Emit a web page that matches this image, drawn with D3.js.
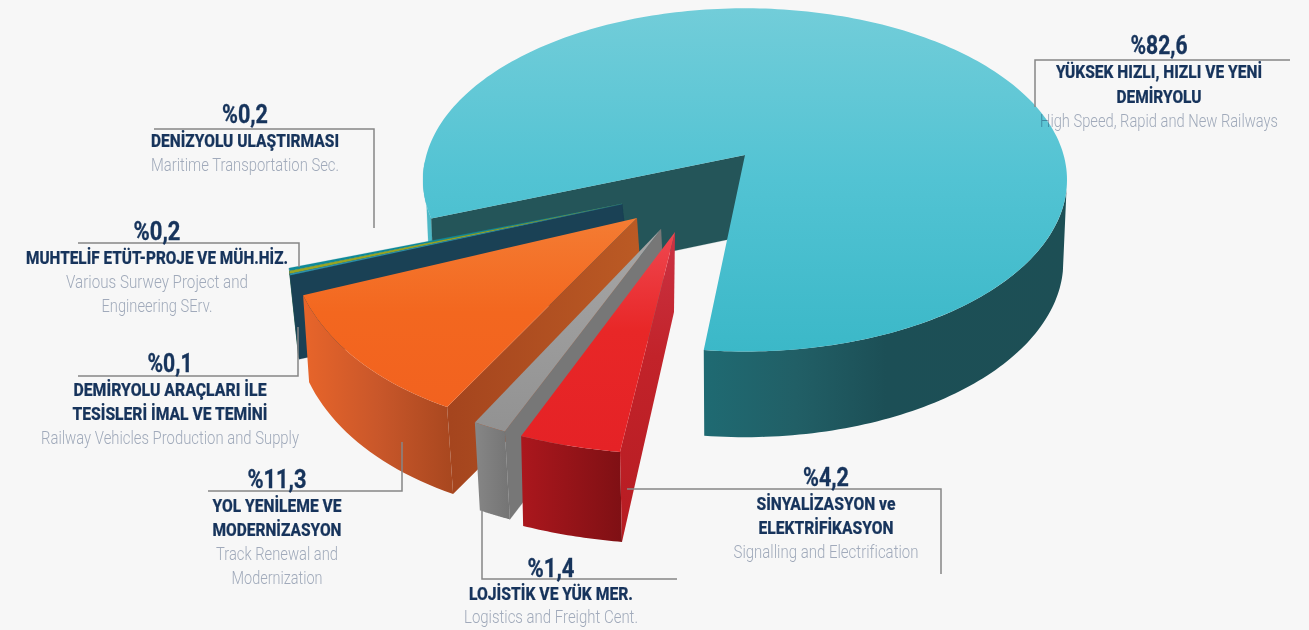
<!DOCTYPE html>
<html lang="tr">
<head>
<meta charset="utf-8">
<script src="https://cdn.jsdelivr.net/npm/d3@7/dist/d3.min.js"></script>
<style>
html,body{margin:0;padding:0;background:#f7f7f7;overflow:hidden}
svg{display:block}
text{font-family:Roboto,"Liberation Sans",sans-serif;text-anchor:middle}
.val{font-weight:700;font-size:25px;fill:#17345c;stroke:#17345c;stroke-width:.35}
.tit{font-weight:800;font-size:18.5px;fill:#17345c;stroke:#17345c;stroke-width:.2}
.sub{font-weight:300;font-size:17.5px;fill:#a6b0c1;mix-blend-mode:multiply}
</style>
</head>
<body>
<svg id="c" width="1309" height="630"></svg>
<script>
// ---------- data ----------
const categories = ["highSpeed","signalling","logistics","track","vehicles","survey","maritime"];
const shares     = [82.6, 4.2, 1.4, 11.3, 0.1, 0.2, 0.2];
const valueTexts = ["%82,6","%4,2","%1,4","%11,3","%0,1","%0,2","%0,2"];
const titleLines = [
  ["YÜKSEK HIZLI, HIZLI VE YENİ","DEMİRYOLU"],
  ["SİNYALİZASYON ve","ELEKTRİFİKASYON"],
  ["LOJİSTİK VE YÜK MER."],
  ["YOL YENİLEME VE","MODERNİZASYON"],
  ["DEMİRYOLU ARAÇLARI İLE","TESİSLERİ İMAL VE TEMİNİ"],
  ["MUHTELİF ETÜT-PROJE VE MÜH.HİZ."],
  ["DENİZYOLU ULAŞTIRMASI"]
];
const subLines = [
  ["High Speed, Rapid and New Railways"],
  ["Signalling and Electrification"],
  ["Logistics and Freight Cent."],
  ["Track Renewal and","Modernization"],
  ["Railway Vehicles Production and Supply"],
  ["Various Surwey Project and","Engineering SErv."],
  ["Maritime Transportation Sec."]
];

// ---------- layout (separate from data) ----------
const deg = Math.PI/180;
const pieStart = (159.5+90)*deg;
// main disc: perspective projection
const disc = {cx:745,cy:155,rx:318.6,ry:168,p:0.145,cy2:236,rx2:315,ry2:172,twist:-0.5*deg};
// exploded wedges: camera matrix of each wedge (origin, 2x2, extrusion)
const cameras = {
  signalling:{o:[675,232],m:[390.1,-8.47,5.55,222.2],e:[2,90],apexDrop:[-1,80]},
  logistics :{o:[661,229],m:[381.7,-14.3,10.8,222.6],e:[5,88]},
  track     :{o:[637,218],m:[345.8,-36.8,4.6,214.6],e:[6,87]},
  vehicles  :{o:[622,204],m:[321.4,-90.9,20.2,237],e:[9,84]},
  survey    :{o:[622,204],m:[321.4,-90.9,20.2,237],e:[9,84]},
  maritime  :{o:[622,204],m:[321.4,-90.9,20.2,237],e:[9,84]}
};
const faces = {
  signalling:{top:"url(#gRedTop)",side:"url(#gRedSide)",wall:"url(#gRedWall)"},
  logistics :{top:"url(#gGrayTop)",side:"url(#gGraySide)",wall:"#777777"},
  track     :{top:"url(#gOrTop)",side:"url(#gOrSide)",wall:"url(#gOrWall)"},
  vehicles  :{top:"#2d93ad",side:"#1f5f6a",wall:"#1a4155"},
  survey    :{top:"#9aa622",side:"#4f7a2a",wall:"#1a4155"},
  maritime  :{top:"#0f8a99",side:"#15606c",wall:"#1a4155"}
};
const labelSpec = [
  {cx:1159,vy:54, vw:57, ty:[78,103],   tw:[206,85],  sy:[127],    sw:[238]},
  {cx:826, vy:486,vw:46, ty:[510,534],  tw:[139,135], sy:[558],    sw:[185]},
  {cx:551, vy:577,vw:47, ty:[600],      tw:[164],     sy:[623],    sw:[174]},
  {cx:277, vy:488,vw:59, ty:[512,536],  tw:[129,129], sy:[560,584],sw:[122,91]},
  {cx:170, vy:372,vw:45, ty:[396,420],  tw:[193,195], sy:[444],    sw:[258]},
  {cx:157, vy:240,vw:47, ty:[264],      tw:[262],     sy:[288,312],sw:[182,111]},
  {cx:245, vy:123,vw:46, ty:[147],      tw:[188],     sy:[171],    sw:[188]}
];
const leaders = [
  [[1035,107],[1035,60],[1290,60]],
  [[627,489],[941,489],[941,574]],
  [[482,511],[482,579],[677,579]],
  [[208,491],[402,491],[402,442]],
  [[78,376],[298,376],[298,327]],
  [[78,243],[299,243],[299,267]],
  [[154,129],[374,129],[374,228]]
];

// ---------- setup ----------
const svg = d3.select("#c");
const defs = svg.append("defs");
function grad(id,x1,y1,x2,y2,stops){
  const g = defs.append("linearGradient").attr("id",id).attr("gradientUnits","userSpaceOnUse")
    .attr("x1",x1).attr("y1",y1).attr("x2",x2).attr("y2",y2);
  stops.forEach(s=>g.append("stop").attr("offset",s[0]).attr("stop-color",s[1]));
}
grad("gMainTop",0,8,0,352,[[0,"#72cdd9"],[0.5,"#52c3d3"],[1,"#3bb8c8"]]);
grad("gMainSide",705,0,1067,0,[[0,"#1f6a72"],[0.25,"#215f66"],[0.5,"#1c4f56"],[1,"#1d4f55"]]);
grad("gOrTop",0,218,0,407,[[0,"#f47c33"],[0.5,"#f3671f"],[1,"#f2621f"]]);
grad("gOrSide",303,0,453,0,[[0,"#e8652a"],[0.5,"#c9572a"],[1,"#a8471f"]]);
grad("gOrWall",637,0,450,0,[[0,"#bb5a24"],[1,"#a5451e"]]);
grad("gGrayTop",0,229,0,431,[[0,"#a6a6a6"],[1,"#929292"]]);
grad("gGraySide",475,0,510,0,[[0,"#868686"],[1,"#747474"]]);
grad("gRedTop",0,232,0,452,[[0,"#ef4750"],[0.45,"#e82727"],[1,"#e52226"]]);
grad("gRedSide",521,0,622,0,[[0,"#ab171d"],[1,"#7f1014"]]);
grad("gRedWall",0,232,0,542,[[0,"#cb3344"],[0.4,"#c2232a"],[1,"#b71c22"]]);

const pie = d3.pie().sort(null).startAngle(pieStart).endAngle(pieStart+2*Math.PI);
const arcs = pie(shares).map((a,i)=>({key:categories[i],a0:a.startAngle-Math.PI/2,a1:a.endAngle-Math.PI/2}));
const line = d3.line();
const poly = pts => line(pts)+"Z";
const sweep = (a,b,n=48)=>d3.range(n+1).map(i=>a+(b-a)*i/n);

function draw(d,fill){ svg.append("path").attr("d",d).attr("fill",fill).attr("stroke",fill.startsWith("url")?"none":fill).attr("stroke-width",0.2); }

// ---------- main slice ----------
const xTop=d3.scaleLinear().domain([-1,1]).range([disc.cx-disc.rx,disc.cx+disc.rx]);
const yTop=d3.scaleLinear().domain([-1,1]).range([disc.cy-disc.ry,disc.cy+disc.ry]);
const xBot=d3.scaleLinear().domain([-1,1]).range([disc.cx-disc.rx2,disc.cx+disc.rx2]);
const yBot=d3.scaleLinear().domain([-1,1]).range([disc.cy2-disc.ry2,disc.cy2+disc.ry2]);
function rim(t,xs,ys){
  const th=t+disc.twist, w=1-disc.p*Math.sin(th);
  return [xs(Math.cos(th)/w),ys(Math.sin(th)/w)];
}
const main=arcs[0];
const topRim=t=>rim(t,xTop,yTop), botRim=t=>rim(t,xBot,yBot);
// right / front outer side
const sideSpan=sweep(372*deg,main.a1,80);
draw(poly(sideSpan.map(topRim).concat(sideSpan.slice().reverse().map(botRim))),"url(#gMainSide)");
// small visible strip at the far left
const leftSpan=sweep(main.a0,178*deg,16);
draw(poly(leftSpan.map(topRim).concat(leftSpan.slice().reverse().map(botRim))),"#4db8c6");
// inner wall
draw(poly([[disc.cx,disc.cy],topRim(main.a0),botRim(main.a0),[disc.cx,disc.cy2]]),"#245559");
// top
draw(poly([[disc.cx,disc.cy]].concat(sweep(main.a0,main.a1,240).map(topRim))),"url(#gMainTop)");

// ---------- exploded wedges ----------
function wedge(arc){
  const c=cameras[arc.key], f=faces[arc.key];
  const P=t=>[c.o[0]+c.m[0]*Math.cos(t)+c.m[1]*Math.sin(t), c.o[1]+c.m[2]*Math.cos(t)+c.m[3]*Math.sin(t)];
  const Q=t=>{const p=P(t);return [p[0]+c.e[0],p[1]+c.e[1]];};
  const drop=c.apexDrop||c.e;
  const span=sweep(arc.a0,arc.a1,24);
  draw(poly(span.map(P).concat(span.slice().reverse().map(Q))),f.side);
  draw(poly([c.o,P(arc.a0),Q(arc.a0),[c.o[0]+drop[0],c.o[1]+drop[1]]]),f.wall);
  draw(poly([c.o].concat(span.map(P))),f.top);
}
// painter's order: far to near
arcs.slice(1).sort((a,b)=>b.a0-a.a0).forEach(wedge);

// ---------- leaders ----------
svg.append("g").selectAll("path").data(leaders).join("path")
  .attr("d",line).attr("fill","none").attr("stroke","#868686").attr("stroke-width",1.5);

// ---------- labels ----------
function put(cls,str,x,y,w){
  svg.append("text").attr("class",cls).attr("x",x).attr("y",y)
    .attr("textLength",w).attr("lengthAdjust","spacingAndGlyphs").text(str);
}
labelSpec.forEach((l,i)=>{
  put("val",valueTexts[i],l.cx,l.vy,l.vw);
  titleLines[i].forEach((s,j)=>put("tit",s,l.cx,l.ty[j],l.tw[j]));
  subLines[i].forEach((s,j)=>put("sub",s,l.cx,l.sy[j],l.sw[j]));
});
</script>
</body>
</html>
